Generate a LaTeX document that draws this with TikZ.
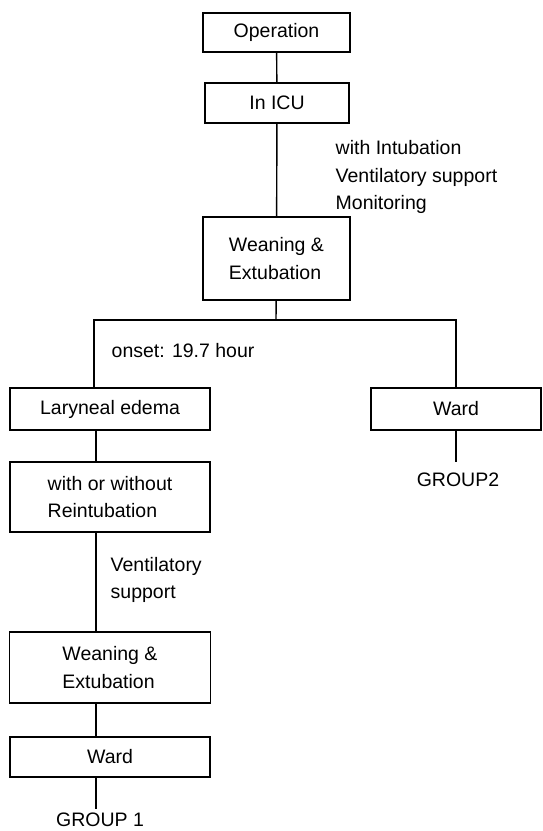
\documentclass[tikz,border=0pt]{standalone}
\usepackage{fontspec}
\setmainfont{Liberation Sans}
\usepackage{tikz}

\begin{document}
\begin{tikzpicture}[x=1pt, y=-1pt, line width=1.4pt,
    box/.style={draw, line width=1.5pt, inner sep=0pt, align=center},
    lbl/.style={anchor=west, align=left, inner sep=0pt},
    every node/.style={font=\fontsize{19.5}{27.5}\selectfont}]
    \useasboundingbox (0,0) rectangle (542,831);

    \node[box, minimum width=147, minimum height=39] (op) at (276.5,32.5) {Operation};
    \node[box, minimum width=144, minimum height=40] (icu) at (277,103) {In ICU};
    \node[box, minimum width=147, minimum height=83, align=left] (wean) at (276.5,258.5) {Weaning \&\\Extubation};
    \node[box, minimum width=200, minimum height=42] (lar) at (110,409) {Laryneal edema};
    \node[box, minimum width=170, minimum height=42] (ward) at (456,409) {Ward};
    \node[box, minimum width=200, minimum height=70, align=left] (reint) at (110,497) {with or without\\Reintubation};
    \node[box, minimum width=201, minimum height=71, align=left] (weantwo) at (110,667.5) {Weaning \&\\Extubation};
    \node[box, minimum width=200, minimum height=40] (wardtwo) at (110,757) {Ward};

    \node[lbl] (icutext) at (335,177) {with Intubation\\Ventilatory support\\Monitoring};
    \node[lbl] (onset) at (111,351) {onset: 19.7 hour};
    \node[lbl] (venttext) at (110,580) {Ventilatory\\support};
    \node[inner sep=0pt] (grouptwo) at (458,480) {GROUP2};
    \node[inner sep=0pt] (groupone) at (100,820) {GROUP 1};

    \coordinate (split) at (276,320);
    \coordinate (jl) at (94,320);
    \coordinate (jr) at (456,320);
    \coordinate (lx) at (96,0);
    \coordinate (gtwo) at (456,462);
    \coordinate (gone) at (96,809);

    \draw (op) -- (icu);
    \draw (icu) -- (wean);
    \draw (wean) -- (split);
    \draw (jl |- lar.north) -- (jl) -- (jr) -- (jr |- ward.north);
    \draw (ward.south -| gtwo) -- (gtwo);
    \draw (lx |- lar.south) -- (lx |- reint.north);
    \draw (lx |- reint.south) -- (lx |- weantwo.north);
    \draw (lx |- weantwo.south) -- (lx |- wardtwo.north);
    \draw (lx |- wardtwo.south) -- (gone);
\end{tikzpicture}
\end{document}
